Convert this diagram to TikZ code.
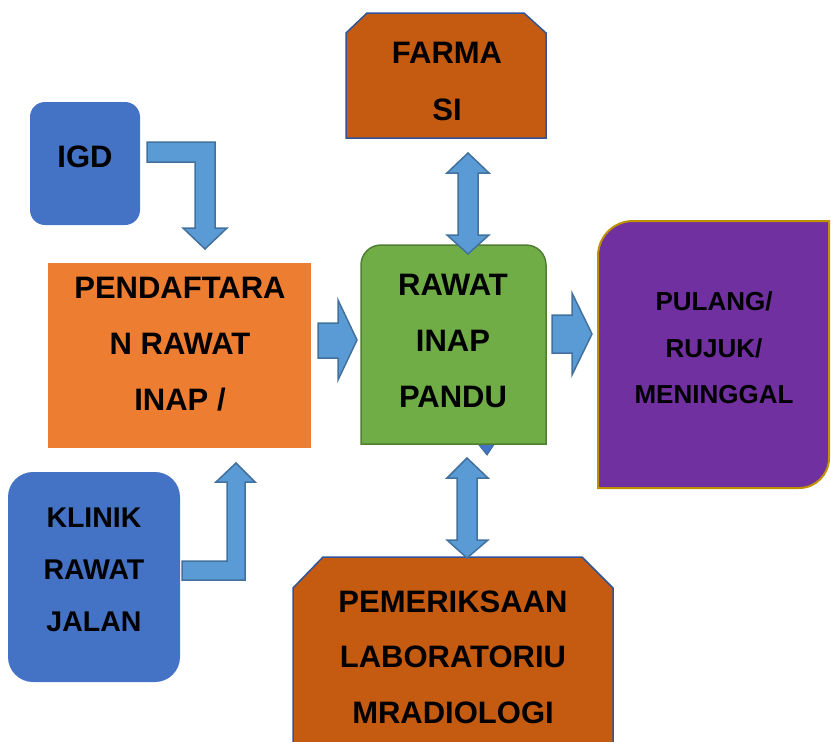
\documentclass[tikz,border=0pt]{standalone}
\usepackage{fontspec}
\setmainfont{Liberation Sans}
\usepackage{tikz}
\usetikzlibrary{positioning,calc}

\definecolor{igdblue}{HTML}{4472C4}
\definecolor{arrowblue}{HTML}{5B9BD5}
\definecolor{arrowedge}{HTML}{41719C}
\definecolor{daftarorange}{HTML}{ED7D31}
\definecolor{inapgreen}{HTML}{70AD47}
\definecolor{inapedge}{HTML}{507E32}
\definecolor{farmabrown}{HTML}{C55A11}
\definecolor{farmaedge}{HTML}{2F5597}
\definecolor{pulangpurple}{HTML}{7030A0}
\definecolor{pulangedge}{HTML}{BF9000}

\begin{document}
\begin{tikzpicture}[x=1pt, y=-1pt,
  blockarrow/.style={fill=arrowblue, draw=arrowedge, line width=1.5pt, line join=miter},
  boxtext/.style={align=center, inner sep=0pt, font=\fontsize{31}{56}\selectfont\bfseries}]
  \useasboundingbox (0,0) rectangle (831,742);

  \fill[igdblue, rounded corners=15] (30,102) rectangle (140,225);
  \fill[igdblue, rounded corners=25] (8,472) rectangle (180,682);
  \fill[daftarorange] (48,263) rectangle (311,448);
  \draw[fill=farmabrown, draw=farmaedge, line width=1.5pt] (346,138) -- (346,33) -- (367,13) -- (524,13) -- (546,33) -- (546,138) -- cycle;
  \draw[fill=farmabrown, draw=farmaedge, line width=1.5pt] (293,750) -- (293,588) -- (323,557) -- (582,557) -- (613,588) -- (613,750);
  \draw[fill=igdblue, draw=arrowedge, line width=1pt] (475,440) -- (497,440) -- (487,455) -- cycle;
  \draw[fill=inapgreen, draw=inapedge, line width=1.5pt] (361,444) -- (361,265) arc[start angle=180, end angle=270, radius=20] -- (526,245) arc[start angle=270, end angle=360, radius=20] -- (546,444) -- cycle;
  \draw[fill=pulangpurple, draw=pulangedge, line width=2pt] (598,488) -- (598,256) arc[start angle=180, end angle=270, radius=35] -- (829,221) -- (829,458) arc[start angle=0, end angle=90, radius=30] -- cycle;

  \node[boxtext] at (85,157) (igd) {IGD};
  \node[boxtext] at (180,344) (daftar) {PENDAFTARA\\N RAWAT\\INAP /};
  \node[boxtext, font=\fontsize{28.5}{52}\selectfont\bfseries] at (94,570) (klinik) {KLINIK\\RAWAT\\JALAN};
  \node[boxtext, font=\fontsize{31}{57}\selectfont\bfseries] at (447,81) (farmasi) {FARMA\\SI};
  \node[boxtext] at (453,341) (inap) {RAWAT\\INAP\\PANDU};
  \node[boxtext, font=\fontsize{26}{46.5}\selectfont\bfseries] at (714,348) (pulang) {PULANG/\\RUJUK/\\MENINGGAL};
  \node[boxtext, font=\fontsize{31}{55.5}\selectfont\bfseries] at (453,657) (periksa) {PEMERIKSAAN\\LABORATORIU\\MRADIOLOGI};

  \draw[blockarrow] (147,142) -- (215,142) -- (215,228) -- (227,228) -- (205,249) -- (183,228) -- (195,228) -- (195,162) -- (147,162) -- cycle;
  \draw[blockarrow] (182,561) -- (227,561) -- (227,482) -- (216,482) -- (236,463) -- (255,482) -- (245,482) -- (245,580) -- (182,580) -- cycle;
  \draw[blockarrow] (318,323) -- (338,323) -- (338,300) -- (357,340) -- (338,380) -- (338,358) -- (318,358) -- cycle;
  \draw[blockarrow] (552,315) -- (572,315) -- (572,293) -- (592,334) -- (572,375) -- (572,353) -- (552,353) -- cycle;
  \draw[blockarrow] (468,153) -- (489,173) -- (478,173) -- (478,235) -- (489,235) -- (468,254) -- (447,235) -- (458,235) -- (458,173) -- (447,173) -- cycle;
  \draw[blockarrow] (467,458) -- (488,478) -- (477,478) -- (477,540) -- (488,540) -- (467,558) -- (447,540) -- (457,540) -- (457,478) -- (447,478) -- cycle;
\end{tikzpicture}
\end{document}
